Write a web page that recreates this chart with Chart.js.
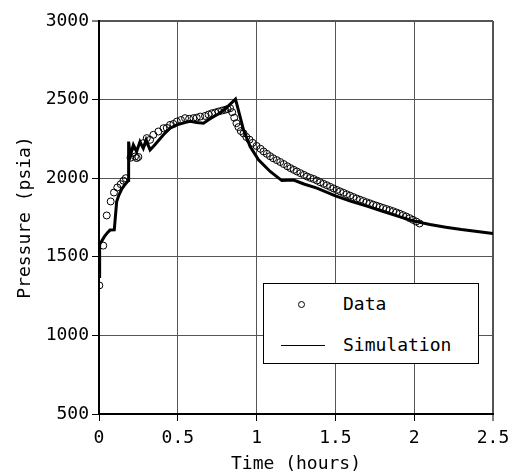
<!DOCTYPE html>
<html>
<head>
<meta charset="utf-8">
<script src="https://cdn.jsdelivr.net/npm/chart.js@4/dist/chart.umd.min.js"></script>
<style>
  body { margin: 0; background: #fff; }
  #wrap { position: relative; width: 513px; height: 476px; }
  #legend {
    position: absolute; left: 263px; top: 283px; width: 214px; height: 79px;
    border: 1.5px solid #000; background: #fff;
    font-family: "DejaVu Sans Mono", monospace; font-size: 18px; color: #000;
  }
  .row { position: absolute; left: 0; height: 24px; line-height: 24px; }
  .row span.label { position: absolute; left: 79px; white-space: nowrap; }
  .mark-circle { position: absolute; left: 34px; top: 9px; width: 5px; height: 5px; border: 1px solid #000; border-radius: 50%; }
  .mark-line { position: absolute; left: 17px; top: 12px; width: 44px; height: 0; border-top: 1px solid #000; }
</style>
</head>
<body>
<div id="wrap">
  <canvas id="chart" width="513" height="476"></canvas>
  <div id="legend"></div>
</div>
<script>
// measured pressure (circles)
const dataTime = [0.002, 0.027, 0.049, 0.074, 0.095, 0.116, 0.138, 0.155, 0.170, 0.200,
  0.215, 0.229, 0.239, 0.250, 0.281, 0.303, 0.324, 0.345, 0.377, 0.409,
  0.430, 0.451, 0.472, 0.494, 0.520, 0.546, 0.572, 0.599, 0.620, 0.642,
  0.673, 0.695, 0.716, 0.737, 0.758, 0.780, 0.800, 0.816, 0.832, 0.845,
  0.858, 0.872, 0.885, 0.900, 0.917, 0.935, 0.955, 0.975, 1.000, 1.025,
  1.044, 1.065, 1.085, 1.105, 1.128, 1.150, 1.172, 1.195, 1.215, 1.236,
  1.256, 1.278, 1.300, 1.320, 1.341, 1.362, 1.383, 1.404, 1.425, 1.446,
  1.467, 1.488, 1.509, 1.530, 1.551, 1.572, 1.593, 1.614, 1.635, 1.656,
  1.677, 1.698, 1.719, 1.740, 1.761, 1.782, 1.803, 1.824, 1.845, 1.866,
  1.887, 1.908, 1.929, 1.950, 1.971, 1.992, 2.013, 2.034];
const dataPressure = [1318, 1571, 1763, 1852, 1909, 1941, 1962, 1984, 2000, 2130,
  2160, 2138, 2128, 2135, 2223, 2255, 2244, 2276, 2297, 2318,
  2320, 2339, 2345, 2360, 2370, 2382, 2378, 2382, 2385, 2392,
  2396, 2405, 2413, 2418, 2424, 2430, 2435, 2440, 2445, 2420,
  2385, 2350, 2325, 2300, 2285, 2262, 2245, 2225, 2205, 2187,
  2170, 2155, 2140, 2127, 2115, 2103, 2090, 2076, 2064, 2053,
  2043, 2032, 2021, 2011, 2002, 1995, 1985, 1974, 1964, 1955,
  1945, 1935, 1925, 1916, 1907, 1898, 1889, 1880, 1871, 1863,
  1855, 1847, 1840, 1832, 1825, 1818, 1811, 1804, 1797, 1790,
  1782, 1774, 1765, 1756, 1746, 1735, 1724, 1712];

// simulation (solid line)
const simTime = [0.000, 0.004, 0.017, 0.035, 0.055, 0.070, 0.097, 0.112, 0.125, 0.144,
  0.165, 0.186, 0.188, 0.198, 0.218, 0.239, 0.260, 0.281, 0.299, 0.324,
  0.356, 0.409, 0.451, 0.494, 0.550, 0.578, 0.620, 0.663, 0.700, 0.748,
  0.800, 0.866, 0.917, 0.959, 1.012, 1.086, 1.160, 1.235, 1.300, 1.383,
  1.500, 1.600, 1.700, 1.800, 1.900, 2.000, 2.100, 2.200, 2.300, 2.400, 2.500];
const simPressure = [1375, 1580, 1600, 1630, 1655, 1670, 1672, 1850, 1890, 1930,
  1960, 1985, 2233, 2140, 2212, 2170, 2233, 2190, 2244, 2180,
  2215, 2276, 2318, 2339, 2355, 2362, 2355, 2350, 2375, 2403,
  2440, 2503, 2308, 2201, 2117, 2043, 1985, 1988, 1963, 1937,
  1888, 1853, 1822, 1790, 1757, 1727, 1705, 1688, 1673, 1661, 1648];

const xTicks = [0, 0.5, 1, 1.5, 2, 2.5];
const yTicks = [500, 1000, 1500, 2000, 2500, 3000];
const seriesLabels = ["Data", "Simulation"];

const FONT = { family: '"DejaVu Sans Mono", monospace', size: 18 };

function toPoints(xs, ys) {
  return xs.map((x, i) => ({ x, y: ys[i] }));
}

const chart = new Chart(document.getElementById("chart"), {
  type: "scatter",
  data: {
    datasets: [
      {
        label: seriesLabels[1],
        data: toPoints(simTime, simPressure),
        showLine: true,
        borderColor: "#000",
        borderWidth: 3,
        pointRadius: 0,
        tension: 0,
        order: 2,
      },
      {
        label: seriesLabels[0],
        data: toPoints(dataTime, dataPressure),
        showLine: false,
        borderColor: "#000",
        backgroundColor: "rgba(0,0,0,0)",
        borderWidth: 1,
        pointRadius: 3.5,
        order: 1,
      },
    ],
  },
  options: {
    responsive: false,
    animation: false,
    layout: { padding: { left: 0, right: 20, top: 21, bottom: 0 } },
    plugins: { legend: { display: false }, tooltip: { enabled: false } },
    scales: {
      x: {
        type: "linear",
        min: 0,
        max: 2.5,
        afterBuildTicks: (s) => { s.ticks = xTicks.map((v) => ({ value: v })); },
        afterFit: (s) => { s.height = 62; s.paddingRight = 16; },
        ticks: { color: "#000", font: FONT, padding: 7, maxRotation: 0, callback: (v) => String(v) },
        grid: {
          color: "#555",
          lineWidth: (c) => (c.tick && c.tick.value === 2.5 ? 2 : 1),
          tickLength: 7,
          tickColor: "#000",
          tickWidth: 1,
        },
        border: { color: "#000", width: 2 },
        title: { display: true, text: "Time (hours)", color: "#000", font: FONT, padding: { top: 0, bottom: 1 } },
      },
      y: {
        type: "linear",
        min: 500,
        max: 3000,
        afterBuildTicks: (s) => { s.ticks = yTicks.map((v) => ({ value: v })); },
        afterFit: (s) => { s.width = 99; },
        ticks: { color: "#000", font: FONT, padding: 3, callback: (v) => String(v) },
        grid: {
          color: "#555",
          lineWidth: (c) => (c.tick && c.tick.value === 3000 ? 2 : 1),
          tickLength: 7,
          tickColor: "#000",
          tickWidth: 1,
        },
        border: { color: "#000", width: 2 },
        title: { display: true, text: "Pressure (psia)", color: "#000", font: FONT, padding: { top: 15, bottom: 0 } },
      },
    },
  },
});

function renderLegend() {
  const box = document.getElementById("legend");
  box.innerHTML =
    `<div class="row" style="top:8px;width:100%"><i class="mark-circle"></i><span class="label">${seriesLabels[0]}</span></div>` +
    `<div class="row" style="top:49px;width:100%"><i class="mark-line"></i><span class="label">${seriesLabels[1]}</span></div>`;
}
renderLegend();
</script>
</body>
</html>
